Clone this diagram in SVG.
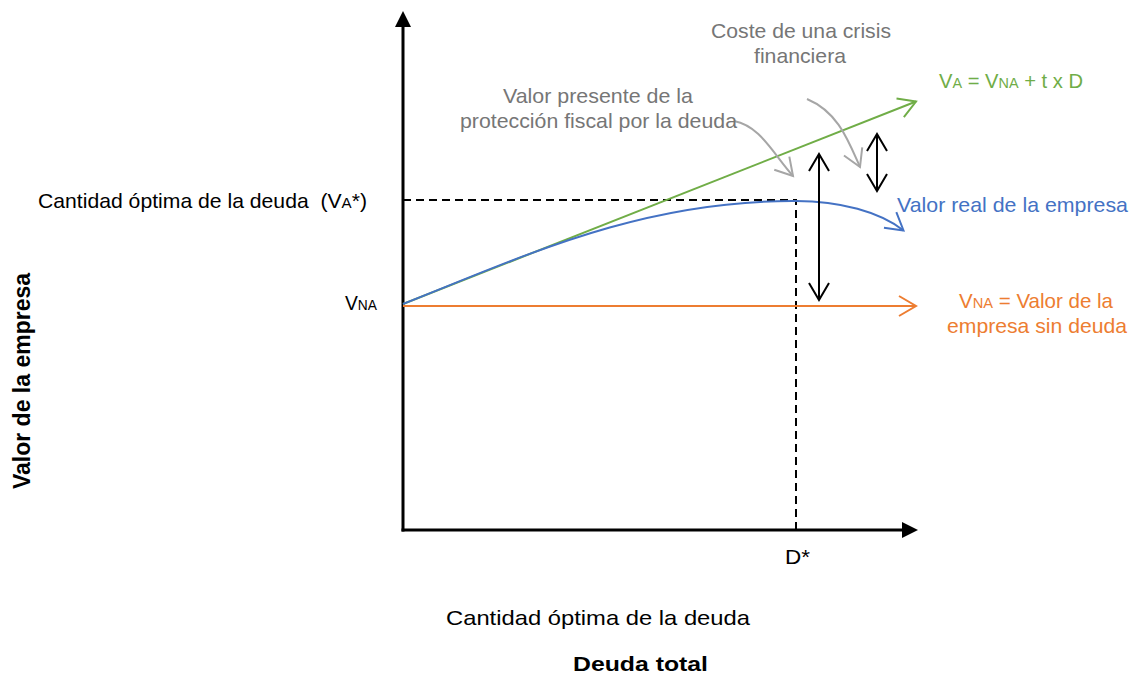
<svg xmlns="http://www.w3.org/2000/svg" width="1136" height="674" viewBox="0 0 1136 674">
<style>
text{font-family:"Liberation Sans",Arial,sans-serif;font-size:21px}
.g{fill:#767676}.gr{fill:#70AD47}.bl{fill:#4472C4}.or{fill:#ED7D31}.k{fill:#000}
.b{font-weight:bold}
.sub{font-size:15px}
.ln{fill:none;stroke-width:2}
</style>
<defs>
<marker id="vk" viewBox="-20 -12 24 24" refX="0" refY="0" markerWidth="24" markerHeight="24" markerUnits="userSpaceOnUse" orient="auto-start-reverse"><path d="M-17,-10 L0,0 L-17,10" fill="none" stroke="#000" stroke-width="2"/></marker>
<marker id="vg" viewBox="-20 -12 24 24" refX="0" refY="0" markerWidth="24" markerHeight="24" markerUnits="userSpaceOnUse" orient="auto"><path d="M-17,-10 L0,0 L-17,10" fill="none" stroke="#70AD47" stroke-width="2"/></marker>
<marker id="vo" viewBox="-20 -12 24 24" refX="0" refY="0" markerWidth="24" markerHeight="24" markerUnits="userSpaceOnUse" orient="auto"><path d="M-17,-10 L0,0 L-17,10" fill="none" stroke="#ED7D31" stroke-width="2"/></marker>
<marker id="vb" viewBox="-20 -12 24 24" refX="0" refY="0" markerWidth="24" markerHeight="24" markerUnits="userSpaceOnUse" orient="auto"><path d="M-17,-10 L0,0 L-17,10" fill="none" stroke="#4472C4" stroke-width="2"/></marker>
<marker id="vy" viewBox="-20 -12 24 24" refX="0" refY="0" markerWidth="24" markerHeight="24" markerUnits="userSpaceOnUse" orient="auto"><path d="M-17,-10 L0,0 L-17,10" fill="none" stroke="#A6A6A6" stroke-width="2"/></marker>
</defs>

<g id="axes">
<line x1="403" y1="531.5" x2="403" y2="26" stroke="#000" stroke-width="3"/>
<polygon points="403,11 395,27 411,27" fill="#000"/>
<line x1="401.5" y1="530" x2="903" y2="530" stroke="#000" stroke-width="3"/>
<polygon points="918,530 902,522 902,538" fill="#000"/>
</g>

<g id="connectors">
<path d="M403,200 H796 V530" fill="none" stroke="#000" stroke-width="2" stroke-dasharray="8,5"/>
<path class="ln" d="M403,306 H916" stroke="#ED7D31" marker-end="url(#vo)"/>
<path class="ln" d="M403,304 L916,101.5" stroke="#70AD47" marker-end="url(#vg)"/>
<path class="ln" d="M403,304 C520,258 640,200 796,201 C840,201 880,212 903.5,230.5" stroke="#4472C4" marker-end="url(#vb)"/>
<path class="ln" d="M819,154 V300" stroke="#000" marker-start="url(#vk)" marker-end="url(#vk)"/>
<path class="ln" d="M877,134 V191" stroke="#000" marker-start="url(#vk)" marker-end="url(#vk)"/>
<path class="ln" d="M734,121 C760,126 772,152 793,176" stroke="#A6A6A6" marker-end="url(#vy)"/>
<path class="ln" d="M807,99 C838,112 848,140 860,167" stroke="#A6A6A6" marker-end="url(#vy)"/>
</g>

<g id="label-coste">
<text class="g" x="711" y="38" textLength="180" lengthAdjust="spacingAndGlyphs">Coste de una crisis</text>
<text class="g" x="754" y="63" textLength="92" lengthAdjust="spacingAndGlyphs">financiera</text>
</g>
<g id="label-proteccion">
<text class="g" x="503" y="103" textLength="190" lengthAdjust="spacingAndGlyphs">Valor presente de la</text>
<text class="g" x="460" y="128" textLength="277" lengthAdjust="spacingAndGlyphs">protección fiscal por la deuda</text>
</g>
<g id="label-va">
<text class="gr" x="939" y="88" textLength="144" lengthAdjust="spacingAndGlyphs">V<tspan class="sub">A</tspan> = V<tspan class="sub">NA</tspan> + t x D</text>
</g>
<g id="label-real">
<text class="bl" x="897" y="212" textLength="231" lengthAdjust="spacingAndGlyphs">Valor real de la empresa</text>
</g>
<g id="label-vna">
<text class="or" x="959" y="308" textLength="154" lengthAdjust="spacingAndGlyphs">V<tspan class="sub">NA</tspan> = Valor de la</text>
<text class="or" x="947" y="333" textLength="180" lengthAdjust="spacingAndGlyphs">empresa sin deuda</text>
</g>
<g id="label-optima-y">
<text class="k" x="38" y="208" textLength="329" lengthAdjust="spacingAndGlyphs" xml:space="preserve">Cantidad óptima de la deuda  (V<tspan class="sub">A</tspan>*)</text>
</g>
<g id="label-vna-axis">
<text class="k" x="345" y="310" textLength="32" lengthAdjust="spacingAndGlyphs">V<tspan class="sub">NA</tspan></text>
</g>
<g id="label-dstar">
<text class="k" x="785" y="564" textLength="25" lengthAdjust="spacingAndGlyphs">D*</text>
</g>
<g id="label-optima-x">
<text class="k" x="446" y="625" textLength="304" lengthAdjust="spacingAndGlyphs">Cantidad óptima de la deuda</text>
</g>
<g id="label-deuda-total">
<text class="k b" x="573" y="671" textLength="135" lengthAdjust="spacingAndGlyphs">Deuda total</text>
</g>
<g id="label-valor-empresa">
<text class="k b" transform="translate(30,381) rotate(-90)" text-anchor="middle" style="font-size:23px">Valor de la empresa</text>
</g>
</svg>
